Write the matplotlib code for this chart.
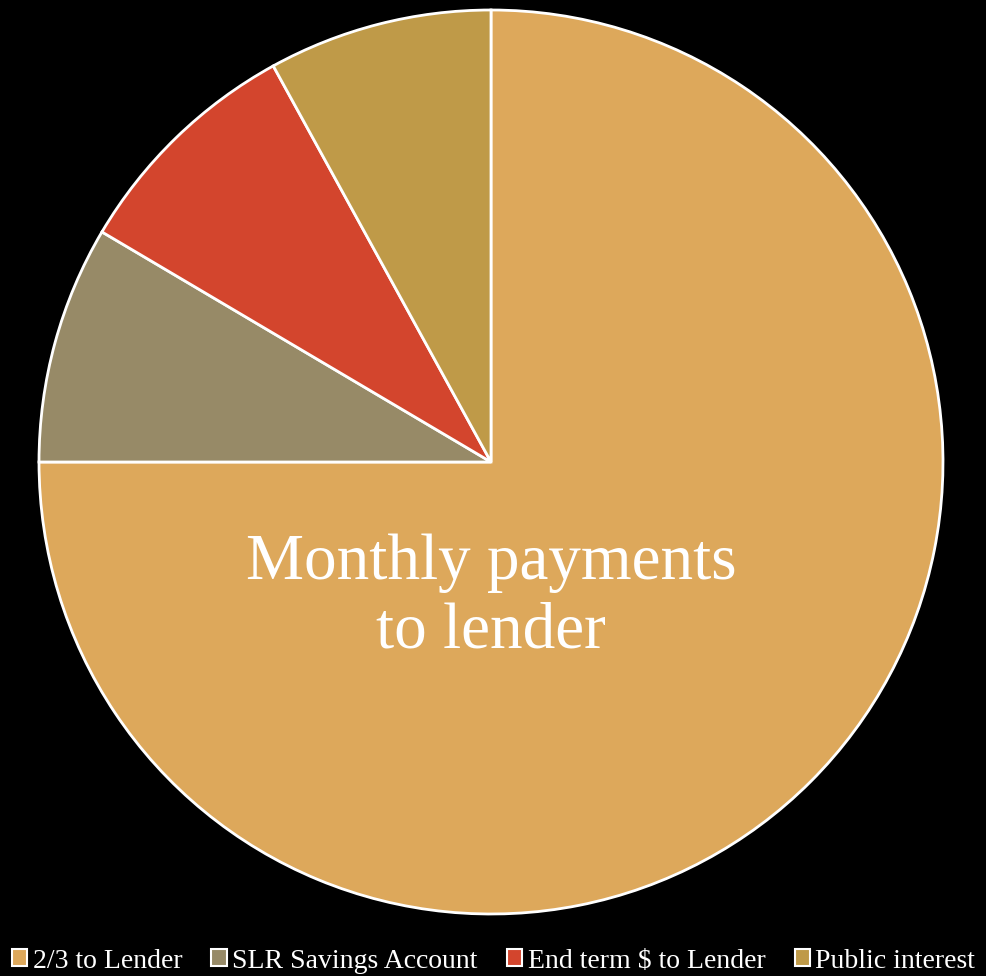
import matplotlib
matplotlib.use("Agg")
import matplotlib.pyplot as plt
from matplotlib.patches import Patch

# share of each payment stream (percent)
labels = ['2/3 to Lender', 'SLR Savings Account', 'End term $ to Lender', 'Public interest']
shares = [75, 8.5, 8.5, 8]
colors = ['#DDA85B', '#978A67', '#D3452D', '#BF9A48']
slice_note = 'Monthly payments\nto lender'

plt.rcParams['font.family'] = ['Liberation Serif', 'DejaVu Serif']

W, H = 987, 976
fig = plt.figure(figsize=(W / 100, H / 100), dpi=100, facecolor='black')

# pie centre and radius in pixels
cx, cy, r = 491, 462, 452
ax = fig.add_axes([(cx - r) / W, (H - cy - r) / H, 2 * r / W, 2 * r / H])
ax.set_facecolor('black')

wedges, _ = ax.pie(shares, colors=colors, startangle=90, counterclock=False,
                   radius=1, wedgeprops=dict(edgecolor='white', linewidth=2))
ax.set_xlim(-1, 1)
ax.set_ylim(-1, 1)
ax.set_aspect('equal')
ax.axis('off')

ax.text(0, -0.30, slice_note, ha='center', va='center', color='white',
        fontsize=47, linespacing=1.2)

handles = [Patch(facecolor=c, edgecolor='white', linewidth=1.5) for c in colors]
leg = fig.legend(handles, labels, ncol=4, loc='center',
                 bbox_to_anchor=(0.5, 1 - 961 / H), frameon=False,
                 fontsize=20, handlelength=0.55, handleheight=0.55,
                 handletextpad=0.2, columnspacing=1.05, borderaxespad=0,
                 borderpad=0, labelcolor='white')

fig.savefig('out.png', dpi=100, facecolor='black')
